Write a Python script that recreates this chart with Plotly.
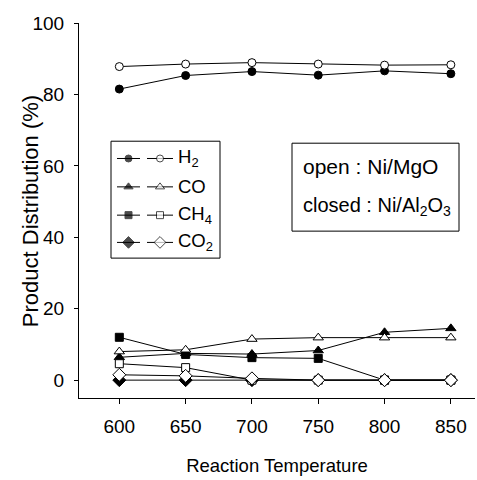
import plotly.graph_objects as go

temps = [600, 650, 700, 750, 800, 850]
h2_closed = [81.5, 85.3, 86.4, 85.4, 86.6, 85.8]
h2_open = [87.8, 88.5, 88.9, 88.5, 88.2, 88.3]
co_closed = [6.4, 7.5, 7.3, 8.3, 13.4, 14.5]
co_open = [8.0, 8.5, 11.5, 11.9, 11.9, 11.9]
ch4_closed = [12.0, 7.2, 6.3, 6.1, 0.0, 0.0]
ch4_open = [4.6, 3.5, 0.0, 0.0, 0.0, 0.0]
co2_closed = [0.0, 0.0, 0.0, 0.0, 0.0, 0.0]
co2_open = [1.5, 1.2, 0.5, 0.0, 0.0, 0.0]

y_ticks = [0, 20, 40, 60, 80, 100]
legend_labels = ["H<sub>2</sub>", "CO", "CH<sub>4</sub>", "CO<sub>2</sub>"]

FONT = "Liberation Sans, Arial, sans-serif"

series = [
    ("H2", h2_closed, h2_open, "circle", 8),
    ("CO", co_closed, co_open, "triangle-up", 9),
    ("CH4", ch4_closed, ch4_open, "square", 8),
    ("CO2", co2_closed, co2_open, "diamond", 10),
]

fig = go.Figure()
for name, yc, yo, sym, sz in series:
    fig.add_trace(go.Scatter(
        x=temps, y=yc, mode="lines+markers", name=name + " closed",
        line=dict(color="black", width=1),
        marker=dict(symbol=sym, size=sz, color="black", line=dict(color="black", width=1)),
        showlegend=False, cliponaxis=False))
for name, yc, yo, sym, sz in series:
    fig.add_trace(go.Scatter(
        x=temps, y=yo, mode="lines+markers", name=name + " open",
        line=dict(color="black", width=1),
        marker=dict(symbol=sym, size=sz, color="white", line=dict(color="black", width=1)),
        showlegend=False, cliponaxis=False))

# custom legend (pixel-like overlay axes)
row_y = [158.3, 186.7, 215.0, 242.3]
for (name, yc, yo, sym, sz), ry, lab in zip(series, row_y, legend_labels):
    lsz = sz - 1
    fig.add_trace(go.Scatter(
        x=[117, 128.5, 140], y=[ry, ry, ry], xaxis="x2", yaxis="y2",
        mode="lines+markers", line=dict(color="black", width=1),
        marker=dict(symbol=sym, size=[0, lsz, 0], color="black", line=dict(color="black", width=1)),
        showlegend=False, hoverinfo="skip"))
    fig.add_trace(go.Scatter(
        x=[147, 160, 173], y=[ry, ry, ry], xaxis="x2", yaxis="y2",
        mode="lines+markers", line=dict(color="black", width=1),
        marker=dict(symbol=sym, size=[0, lsz, 0], color="white", line=dict(color="black", width=1)),
        showlegend=False, hoverinfo="skip"))
    fig.add_annotation(x=176, y=ry, xref="x2", yref="y2", text=lab, showarrow=False,
                       xanchor="left", yanchor="middle", font=dict(family=FONT, size=18.5, color="black"))

shapes = [
    dict(type="rect", xref="x2", yref="y2", x0=111, x1=220, y0=141, y1=258,
         line=dict(color="black", width=1), fillcolor="rgba(0,0,0,0)"),
    dict(type="rect", xref="x2", yref="y2", x0=292, x1=459, y0=143, y1=231,
         line=dict(color="black", width=1), fillcolor="rgba(0,0,0,0)"),
]
fig.add_annotation(x=301, y=166, xref="x2", yref="y2", text="open : Ni/MgO", showarrow=False,
                   xanchor="left", yanchor="middle", font=dict(family=FONT, size=21, color="black"))
fig.add_annotation(x=301, y=206, xref="x2", yref="y2", text="closed : Ni/Al<sub>2</sub>O<sub>3</sub>",
                   showarrow=False, xanchor="left", yanchor="middle",
                   font=dict(family=FONT, size=20, color="black"))
# y-axis title (paper coordinates, left of the plot area)
fig.add_annotation(x=(30 - 79) / 396, y=(398 - 211) / 375.3, xref="paper", yref="paper",
                   text="Product Distribution (%)",
                   showarrow=False, textangle=-90, xanchor="center", yanchor="middle",
                   font=dict(family=FONT, size=22, color="black"))

fig.update_layout(
    width=477, height=480,
    margin=dict(l=79, r=2, t=23, b=82),
    paper_bgcolor="white", plot_bgcolor="white",
    font=dict(family=FONT, color="black"),
    shapes=shapes,
    xaxis=dict(range=[569.6, 868.2], tickvals=temps, ticks="outside", ticklen=5, tickwidth=1,
               tickcolor="black", showline=True, linecolor="black", linewidth=1,
               showgrid=False, zeroline=False, tickfont=dict(size=19),
               ticklabelstandoff=6,
               title=dict(text="Reaction Temperature", font=dict(size=18.5), standoff=23)),
    yaxis=dict(range=[-5, 100], tickvals=y_ticks, ticks="outside", ticklen=4, tickwidth=1,
               tickcolor="black", showline=True, linecolor="black", linewidth=1,
               showgrid=False, zeroline=False, tickfont=dict(size=19),
               ticklabelstandoff=6),
    xaxis2=dict(range=[79, 475], overlaying="x", anchor="y2", visible=False),
    yaxis2=dict(range=[398, 22.7], overlaying="y", anchor="x2", visible=False),
)

fig.write_html("out.html")
